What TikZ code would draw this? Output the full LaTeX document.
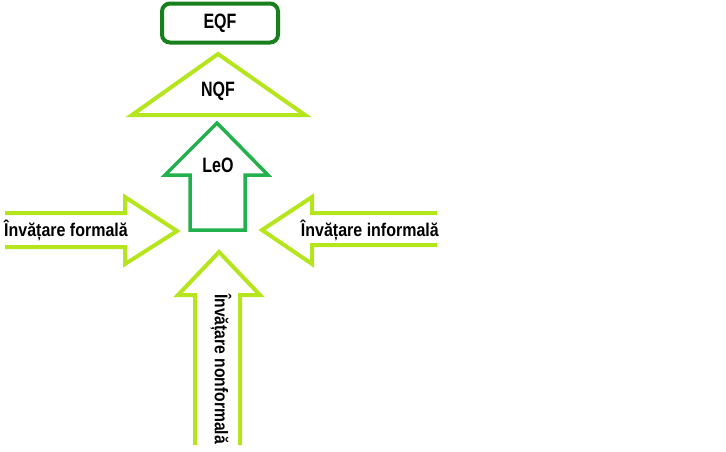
\documentclass[tikz,border=0pt]{standalone}
\usepackage{fontspec}
\setmainfont{Liberation Sans}
\definecolor{lime}{HTML}{B5E61D}
\definecolor{midgreen}{HTML}{22B14C}
\definecolor{darkgreen}{HTML}{17801C}
\tikzset{
  limeline/.style={draw=lime, line width=4pt, line join=miter},
  leoline/.style={draw=midgreen, line width=3.5pt, line join=miter},
  bigtxt/.style={font=\fontsize{16}{18}\selectfont\bfseries, yscale=1.3, inner sep=0pt},
  smalltxt/.style={font=\fontsize{16}{18}\selectfont\bfseries, yscale=1.15, inner sep=0pt},
  rottxt/.style={font=\fontsize{16}{18}\selectfont\bfseries, inner sep=0pt}
}
\begin{document}
\begin{tikzpicture}[x=1pt,y=-1pt]
\useasboundingbox (0,0) rectangle (726,451);
% EQF
\node[draw=darkgreen, line width=4pt, rounded corners=8pt, minimum width=116pt, minimum height=39pt] (eqf) at (220,23) {};
\node[bigtxt] (eqft) at (eqf.center) {EQF};
% NQF triangle
\coordinate (nqfA) at (218,54);
\coordinate (nqfL) at (132,115);
\coordinate (nqfR) at (305,115);
\draw[limeline] (nqfA) -- (nqfL) -- (nqfR) -- cycle;
\node[bigtxt] (nqft) at (218,91) {NQF};
% LeO arrow
\draw[leoline] (217,123) -- (268,175) -- (245,175) -- (245,230) -- (190,230) -- (190,175) -- (165,175) -- cycle;
\node[bigtxt] (leot) at (218,165) {LeO};
% left arrow
\draw[limeline] (5,213) -- (125,213) -- (125,197) -- (177,231) -- (125,264) -- (125,247) -- (5,247);
\node[smalltxt, anchor=west] (lt) at (4,230) {Învățare formală};
% right arrow
\draw[limeline] (437,213) -- (312,213) -- (312,197) -- (262,230) -- (312,264) -- (312,245) -- (437,245);
\node[smalltxt, anchor=east] (rt) at (439,230) {Învățare informală};
% bottom arrow
\draw[limeline] (195,445) -- (195,295) -- (178,295) -- (219,252) -- (260,295) -- (240,295) -- (240,445);
\node[rottxt, rotate=-90] (bt) at (221,369) {\scalebox{0.98}[1.15]{Învățare nonformală}};
\end{tikzpicture}
\end{document}
